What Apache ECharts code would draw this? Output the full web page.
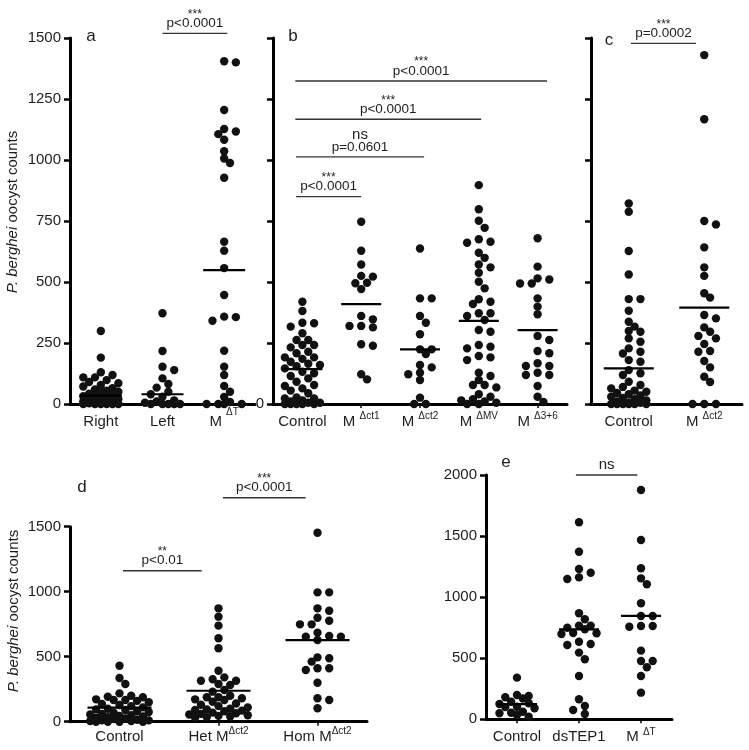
<!DOCTYPE html>
<html><head><meta charset="utf-8">
<script src="https://cdn.jsdelivr.net/npm/echarts@6/dist/echarts.min.js"></script>
<style>html,body{margin:0;padding:0;background:#fff}#c{width:749px;height:750px}</style>
</head><body><div id="c"></div>
<script>
// ---------------- data ----------------
const catsA = ['Right', 'Left', 'M {s|ΔT}'];
const rightA = [299,190,130,119,109,109,98,90,85,78,72,65,60,55,50,48,42,38,35,32,28,25,20,18,15,12,10,8,5,3,0,0,0,0,0,0];
const leftA = [372,217,153,139,105,82,67,50,40,30,15,10,5,0,0,0,0,0];
const mtA = [1405,1400,1205,1127,1117,1106,1083,1036,1006,988,927,665,628,557,447,358,356,341,218,153,119,74,50,29,8,0,0,0,0];
const medA = [34, 40, 549];
const bracketsA = [[1.0, 2.05, 1519, '***', 'p<0.0001']];

const catsB = ['Control', 'M {s|Δct1}', 'M {s|Δct2}', 'M {s|ΔMV}', 'M {s|Δ3+6}'];
const ctrlB = [419,381,333,331,317,290,262,262,242,242,232,214,208,191,191,185,173,165,160,155,146,132,126,115,105,91,78,74,64,55,44,27,23,23,15,10,5,5,0,0,0,0,0];
const ct1B = [747,628,572,525,522,497,495,471,361,347,320,320,314,245,239,122,101];
const ct2B = [637,433,433,361,333,286,224,224,205,160,150,128,122,98,26,0,0];
const mvB = [897,798,751,722,675,665,661,620,599,572,560,538,501,474,429,419,410,372,372,361,344,303,296,242,235,228,197,191,180,128,115,98,78,78,68,40,30,20,15,10,5,0,0];
const d36B = [679,563,515,510,494,494,433,399,368,279,262,217,208,167,156,156,128,119,119,74,30,8];
const medB = [143, 409, 224, 341, 303];
const bracketsB = [
  [-0.12, 4.16, 1324, '***', 'p<0.0001'],
  [-0.12, 3.04, 1167, '***', 'p<0.0001'],
  [-0.11, 2.07, 1013, 'ns', 'p=0.0601'],
  [-0.11, 1.0, 850, '***', 'p<0.0001']
];

const catsC = ['Control', 'M {s|Δct2}'];
const ctrlC = [822,788,627,531,430,430,382,337,317,299,296,269,255,228,214,207,180,173,139,126,119,91,78,70,64,55,50,45,40,35,30,25,20,15,10,5,5,0,0,0,0,0,0];
const ct2C = [1430,1167,750,736,642,560,525,454,436,365,351,314,296,279,269,246,217,214,176,150,112,90,0,0,0];
const medC = [146, 395];
const bracketsC = [[0.03, 0.89, 1478, '***', 'p=0.0002']];

const catsD = ['Control', 'Het M{s|Δct2}', 'Hom M{s|Δct2}'];
const ctrlD = [430,336,290,218,200,192,188,172,167,167,160,150,136,128,120,110,100,95,90,80,75,70,60,55,50,45,40,35,30,25,20,15,10,10,5,5,0,0,0,0];
const hetD = [872,808,739,642,565,392,341,326,315,315,290,282,244,231,200,188,188,180,172,167,154,140,130,120,110,100,95,90,85,80,70,65,60,55,50,45,40,35,30];
const homD = [1454,995,995,872,854,800,777,749,749,685,659,654,654,628,495,488,462,411,411,398,300,180,167,103];
const medD = [108, 238, 628];
const bracketsD = [
  [0.035, 0.83, 1161, '**', 'p<0.01'],
  [1.045, 1.88, 1723, '***', 'p<0.0001']
];

const catsE = ['Control', 'dsTEP1', 'M {s|ΔT}'];
const ctrlE = [341,199,191,180,170,144,131,125,103,100,90,62,54,50,35,21];
const tepE = [1613,1372,1230,1200,1162,1148,868,819,767,767,750,737,707,704,698,635,616,608,546,491,354,164,109,76,43];
const mtE = [1877,1468,1236,1154,1105,950,846,846,764,764,758,562,477,477,426,354,218];
const medE = [125, 737, 846];
const bracketsE = [[0.95, 1.94, 2000, '', 'ns']];

const yTitle = '{i|P. berghei} oocyst counts';

// ---------------- layout / style ----------------
const FONT = "'Liberation Sans', Arial, Helvetica, sans-serif";
const TXT = '#1e1e1e';
const R = 4.2;
const panels = [
  {grid:{left:70,top:38,width:185,height:366}, cats:catsA, groups:[rightA,leftA,mtA], med:medA, br:bracketsA, yMax:1500, yInt:250, lab:'all', hw:21, title:[13,212], letter:['a',91,36], maxK:3, lh:30, mg:3},
  {grid:{left:273,top:38,width:294,height:366}, cats:catsB, groups:[ctrlB,ct1B,ct2B,mvB,d36B], med:medB, br:bracketsB, yMax:1500, yInt:250, lab:'zero', hw:20, letter:['b',293,36], maxK:3.5, lh:22, mg:7},
  {grid:{left:591,top:38,width:151,height:366}, cats:catsC, groups:[ctrlC,ct2C], med:medC, br:bracketsC, yMax:1500, yInt:250, lab:'none', hw:25, letter:['c',609,40], maxK:3.5, lh:22, mg:7},
  {grid:{left:70,top:526.7,width:297,height:195}, cats:catsD, groups:[ctrlD,hetD,homD], med:medD, br:bracketsD, yMax:1500, yInt:500, lab:'all', hw:32, title:[14,611], letter:['d',82,487], maxK:5, lh:20, mg:5},
  {grid:{left:486,top:475,width:186,height:244.3}, cats:catsE, groups:[ctrlE,tepE,mtE], med:medE, br:bracketsE, yMax:2000, yInt:500, lab:'all', hw:20, letter:['e',506,462], maxK:3, lh:20, mg:7.5}
];

const chart = echarts.init(document.getElementById('c'), null, {renderer:'canvas'});

function buildOption(dotData) {
  const graphic = panels.map(p => ({type:'text', x:p.letter[1], y:p.letter[2],
      style:{text:p.letter[0], fill:TXT, textFill:TXT, font:'17px '+FONT, textAlign:'center', align:'center', textVerticalAlign:'middle', verticalAlign:'middle'}}));
  panels.filter(p => p.title).forEach(p => graphic.push({
    type:'text', x:p.title[0], y:p.title[1], rotation:Math.PI/2,
    style:{text:yTitle, fill:TXT, font:'15px '+FONT, align:'center', verticalAlign:'middle', textAlign:'center', textVerticalAlign:'middle',
      rich:{i:{fontStyle:'italic', fontSize:15, fontFamily:FONT, fill:TXT, color:TXT}}}
  }));
  const opt = {
    backgroundColor:'#fff', animation:false,
    grid: panels.map(p => Object.assign({containLabel:false, outerBoundsMode:'none'}, p.grid)),
    xAxis: panels.map((p,i) => ({
      type:'category', gridIndex:i, data:p.cats, boundaryGap:true,
      axisLine:{show:true, onZero:false, lineStyle:{color:'#000', width:3}},
      axisTick:{show:true, alignWithLabel:true, length:4, lineStyle:{color:'#000', width:1.5}},
      axisLabel:{show:true, interval:0, fontSize:15, lineHeight:p.lh, color:TXT, fontFamily:FONT, margin:p.mg,
        rich:{s:{fontSize:10, fontFamily:FONT, color:TXT, verticalAlign:'top', lineHeight:10}}},
      splitLine:{show:false}
    })),
    yAxis: panels.map((p,i) => ({
      type:'value', gridIndex:i, min:0, max:p.yMax, interval:p.yInt,
      axisLine:{show:true, lineStyle:{color:'#000', width:3}},
      axisTick:{show:true, length:6, lineStyle:{color:'#000', width:2.5}},
      axisLabel:{show:p.lab!=='none', fontSize:15, color:TXT, fontFamily:FONT, margin:9,
        formatter: v => p.lab==='all' ? String(v) : (p.lab==='zero' && v===0 ? '0' : '')},
      splitLine:{show:false}
    })),
    series: [],
    graphic: graphic
  };
  panels.forEach((p,i) => {
    opt.series.push({
      type:'custom', xAxisIndex:i, yAxisIndex:i, encode:{x:0, y:1}, clip:false, silent:true,
      data: dotData[i],
      renderItem:(params, api) => {
        const c = api.coord([api.value(0), api.value(1)]);
        return {type:'circle', shape:{cx:c[0]+api.value(2), cy:c[1], r:R}, style:{fill:'#111'}};
      }
    });
    opt.series.push({
      type:'custom', xAxisIndex:i, yAxisIndex:i, encode:{x:0, y:1}, clip:false, silent:true, z:3,
      data: p.med.map((m,k) => [k, m]),
      renderItem:(params, api) => {
        const c = api.coord([api.value(0), api.value(1)]);
        return {type:'line', shape:{x1:c[0]-p.hw, y1:c[1], x2:c[0]+p.hw, y2:c[1]}, style:{stroke:'#000', lineWidth:2.2}};
      }
    });
    opt.series.push({
      type:'custom', xAxisIndex:i, yAxisIndex:i, encode:{x:0, y:1}, clip:false, silent:true,
      data: p.br.map(b => [0, b[2]]),
      renderItem:(params, api) => {
        const b = p.br[params.dataIndex];
        const c0 = api.coord([0, b[2]]), c1 = api.coord([1, b[2]]);
        const band = c1[0]-c0[0];
        const x1 = c0[0]+b[0]*band, x2 = c0[0]+b[1]*band, y = c0[1], mx = (x1+x2)/2;
        const kids = [{type:'line', shape:{x1:x1, y1:y, x2:x2, y2:y}, style:{stroke:'#333', lineWidth:1.4}}];
        const mk = (t, yy, fs) => ({type:'text', style:{text:t, x:mx, y:yy, fill:TXT, textFill:TXT, font:fs+'px '+FONT,
          textAlign:'center', align:'center', textVerticalAlign:'middle', verticalAlign:'middle'}});
        if (b[4]) kids.push(mk(b[4], y-10, b[4]==='ns' ? 15 : 13.5));
        if (b[3]) kids.push(mk(b[3], b[3]==='ns' ? y-22 : y-19, b[3]==='ns' ? 15 : 12));
        return {type:'group', children:kids};
      }
    });
  });
  return opt;
}

chart.setOption(buildOption(panels.map(() => [])));

// beeswarm offsets (pixels) computed from values via the axis scale
const STEP = 5.85, MIND = 7.2;
const dotData = panels.map((p,i) => {
  const out = [];
  const cands = [0];
  for (let k = 1; k <= p.maxK; k += 1) { cands.push(k, -k); }
  p.groups.forEach((vals, k) => {
    const order = vals.map((v,j) => j).sort((a,b) => vals[b]-vals[a]);
    const placed = [];
    order.forEach(j => {
      const py = chart.convertToPixel({yAxisIndex:i}, vals[j]);
      let best = null, bestD = -1;
      for (const kk of cands) {
        const cand = kk*STEP;
        let md = Infinity;
        placed.forEach(q => { md = Math.min(md, Math.hypot(q[0]-cand, q[1]-py)); });
        if (md >= MIND) { best = cand; break; }
        if (md > bestD + 0.5) { bestD = md; best = cand; }
      }
      placed.push([best, py]);
      out.push([k, vals[j], best]);
    });
  });
  return out;
});
chart.setOption(buildOption(dotData), true);
</script></body></html>
